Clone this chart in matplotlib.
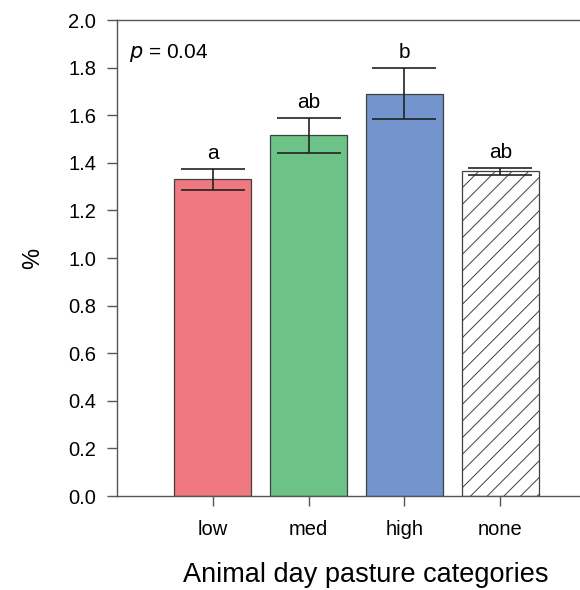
import matplotlib
matplotlib.use('Agg')
import matplotlib.pyplot as plt
import numpy as np

plt.rcParams['font.family'] = ['Liberation Sans', 'DejaVu Sans']
plt.rcParams['hatch.linewidth'] = 0.7

# Data
categories = ['low', 'med', 'high', 'none']
means = [1.33, 1.515, 1.69, 1.365]
err_up = [0.045, 0.075, 0.11, 0.015]
err_down = [0.045, 0.075, 0.105, 0.015]
letters = ['a', 'ab', 'b', 'ab']
colors = ['#F07880', '#6CC287', '#7394CC', 'white']
hatches = [None, None, None, '//']

fig = plt.figure(figsize=(5.8, 5.9), dpi=100)
ax = fig.add_axes([0.2017, 0.1593, 0.826, 0.8068])

x = np.arange(len(categories))
edge = '#404040'
for i in range(len(categories)):
    ax.bar(x[i], means[i], width=0.8, color=colors[i], edgecolor=edge,
           linewidth=0.9, hatch=hatches[i], zorder=2)
ax.errorbar(x, means, yerr=[err_down, err_up], fmt='none', ecolor='#222222',
            elinewidth=1.2, capsize=23, capthick=1.2, zorder=3)

for i in range(len(categories)):
    ax.text(x[i], means[i] + err_up[i] + 0.025, letters[i], ha='center',
            va='bottom', fontsize=15)

ax.text(0.025, 0.93, r'$p$ = 0.04', transform=ax.transAxes, fontsize=15,
        ha='left', va='center')

ax.set_xlim(-1, 4)
ax.set_ylim(0, 2.0)
ax.set_yticks(np.arange(0, 2.01, 0.2))
ax.set_yticklabels([f'{v:.1f}' for v in np.arange(0, 2.01, 0.2)])
ax.set_xticks(x)
ax.set_xticklabels(categories)
ax.tick_params(axis='both', direction='out', length=7, width=1, colors='#555555',
               labelcolor='black', labelsize=14.5, pad=8)
ax.tick_params(axis='x', pad=10)
for s in ['left', 'bottom', 'top', 'right']:
    ax.spines[s].set_color('#555555')
    ax.spines[s].set_linewidth(1)

ax.set_ylabel('%', fontsize=17, labelpad=17)
ax.set_xlabel('Animal day pasture categories', fontsize=19.5, labelpad=16.5)
ax.xaxis.label.set_x(0.52)

fig.savefig('out.png', dpi=100)
